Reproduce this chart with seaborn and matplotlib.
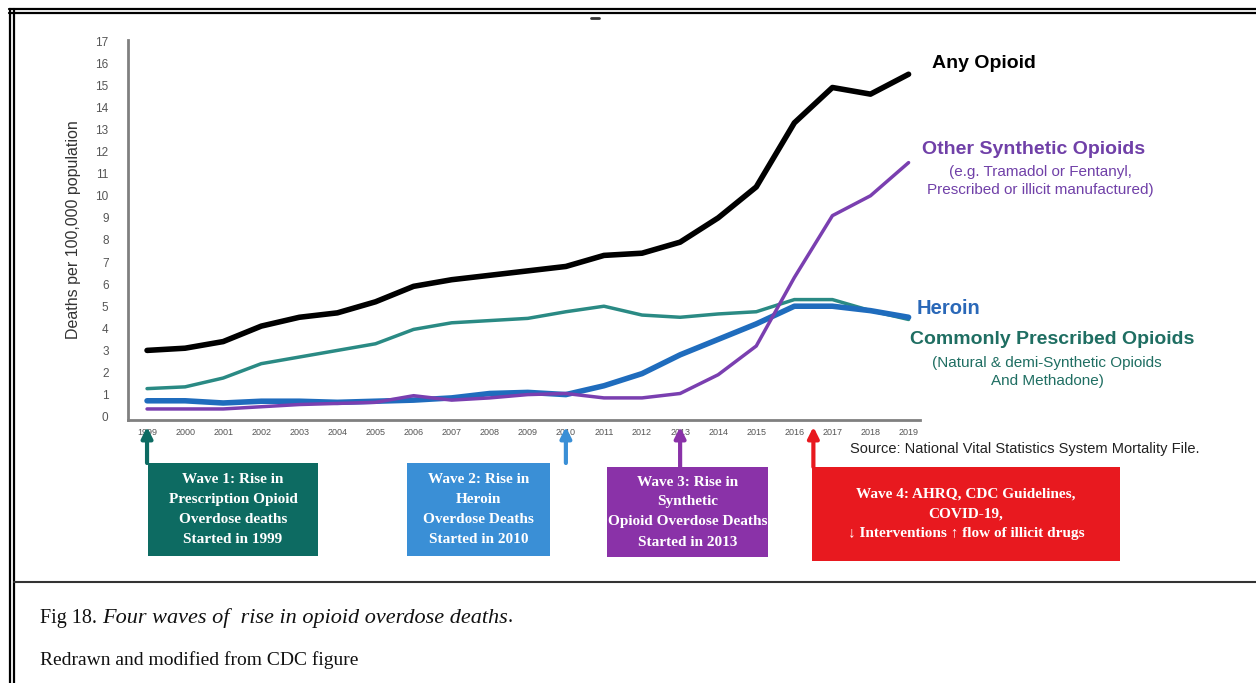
import numpy as np
import pandas as pd
import matplotlib
matplotlib.use("Agg")
import matplotlib.pyplot as plt
from matplotlib.patches import Rectangle
from matplotlib.lines import Line2D
import seaborn as sns

# --- datos (muertes por 100.000 habitantes) ---
years = list(range(1999, 2020))
any_opioid = [3.0, 3.1, 3.4, 4.1, 4.5, 4.7, 5.2, 5.9, 6.2, 6.4, 6.6,
              6.8, 7.3, 7.4, 7.9, 9.0, 10.4, 13.3, 14.9, 14.6, 15.5]
synthetic = [0.35, 0.35, 0.35, 0.45, 0.55, 0.6, 0.65, 0.95, 0.75, 0.85, 1.0,
             1.05, 0.85, 0.85, 1.05, 1.9, 3.2, 6.3, 9.1, 10.0, 11.5]
heroin = [0.72, 0.72, 0.62, 0.7, 0.7, 0.65, 0.7, 0.75, 0.85, 1.05, 1.1,
          1.0, 1.4, 1.95, 2.8, 3.5, 4.2, 5.0, 5.0, 4.8, 4.5]
prescribed = [1.27, 1.35, 1.75, 2.4, 2.7, 3.0, 3.3, 3.95, 4.25, 4.35, 4.45,
              4.75, 5.0, 4.6, 4.5, 4.65, 4.75, 5.3, 5.3, 4.8, 4.4]

y_ticks = list(range(0, 18))

wave_years = [1999, 2010, 2013, 2016.5]
wave_texts = [
    "Wave 1: Rise in\nPrescription Opioid\nOverdose deaths\nStarted in 1999",
    "Wave 2: Rise in\nHeroin\nOverdose Deaths\nStarted in 2010",
    "Wave 3: Rise in\nSynthetic\nOpioid Overdose Deaths\nStarted in 2013",
    "Wave 4: AHRQ, CDC Guidelines,\nCOVID-19,\n\u2193 Interventions \u2191 flow of illicit drugs",
]
wave_colors = ["#0d6b62", "#3a8fd6", "#8a32a8", "#e8191f"]
# cajas en pixeles (x0, y0, x1, y1)
wave_boxes = [(148, 463, 318, 556), (407, 463, 550, 556),
              (607, 467, 768, 557), (812, 467, 1120, 561)]

W, H = 1256, 683


def fx(x):
    return x / W


def fy(y):
    return 1 - y / H


sns.set_theme(style="white")
plt.rcParams['font.family'] = ['Liberation Sans', 'DejaVu Sans']

fig = plt.figure(figsize=(W / 100, H / 100), dpi=100)
ax = fig.add_axes([fx(128), fy(420), fx(920) - fx(128), fy(40) - fy(420)])

df = pd.DataFrame({
    'year': years * 4,
    'value': any_opioid + synthetic + heroin + prescribed,
    'serie': (['any'] * len(years) + ['synthetic'] * len(years)
              + ['heroin'] * len(years) + ['prescribed'] * len(years)),
})

estilos = {
    'prescribed': ('#2a8a84', 2.5),
    'heroin': ('#1f6cbd', 4.0),
    'synthetic': ('#7a3fb0', 2.5),
    'any': ('#000000', 4.0),
}
for serie, (color, lw) in estilos.items():
    sns.lineplot(data=df[df['serie'] == serie], x='year', y='value',
                 color=color, linewidth=lw, ax=ax)

ax.set_xlim(1998.5, 2019.3)
ax.set_ylim(-0.15, 17.05)
ax.set_xticks(years)
ax.set_xticklabels([str(y) for y in years], fontsize=6.5, color='#555555')
ax.set_yticks(y_ticks)
ax.set_yticklabels([str(t) for t in y_ticks], fontsize=8.5, color='#555555')
ax.tick_params(axis='y', length=0, pad=14)
ax.tick_params(axis='x', length=0, pad=6)
ax.set_xlabel('')
ax.set_ylabel('Deaths per 100,000 population', fontsize=11.5, color='#333333',
              labelpad=10)
for s in ['top', 'right']:
    ax.spines[s].set_visible(False)
for s in ['left', 'bottom']:
    ax.spines[s].set_color('#808080')
    ax.spines[s].set_linewidth(2)

# etiquetas de series
fig.text(fx(984), fy(63), 'Any Opioid', ha='center', va='center',
         fontsize=14, fontweight='bold', color='black')
fig.text(fx(1034), fy(150), 'Other Synthetic Opioids', ha='center', va='center',
         fontsize=14, fontweight='bold', color='#7040a8')
fig.text(fx(1040), fy(181), '(e.g. Tramadol or Fentanyl,\nPrescribed or illicit manufactured)',
         ha='center', va='center', fontsize=11, color='#7040a8', linespacing=1.45)
fig.text(fx(949), fy(308), 'Heroin', ha='center', va='center',
         fontsize=14.5, fontweight='bold', color='#2a68b8')
fig.text(fx(1052), fy(340), 'Commonly Prescribed Opioids', ha='center', va='center',
         fontsize=14, fontweight='bold', color='#1f6e62')
fig.text(fx(1047), fy(372), '(Natural & demi-Synthetic Opioids\nAnd Methadone)',
         ha='center', va='center', fontsize=11, color='#1f6e62', linespacing=1.45)

fig.text(fx(850), fy(449), 'Source: National Vital Statistics System Mortality File.',
         ha='left', va='center', fontsize=10.5, color='#222222')

# cajas de las olas y flechas
for yr, txt, col, (x0, y0, x1, y1) in zip(wave_years, wave_texts, wave_colors, wave_boxes):
    fig.add_artist(Rectangle((fx(x0), fy(y1)), fx(x1) - fx(x0), fy(y0) - fy(y1),
                             transform=fig.transFigure, facecolor=col,
                             edgecolor='none'))
    fig.text(fx((x0 + x1) / 2), fy((y0 + y1) / 2), txt, ha='center', va='center',
             color='white', fontsize=11, fontweight='bold',
             family=['Liberation Serif', 'DejaVu Serif'], linespacing=1.7)
    ax.annotate('', xy=(yr, -0.018), xytext=(yr, -(y0 - 420) / 380),
                xycoords=('data', 'axes fraction'),
                textcoords=('data', 'axes fraction'),
                arrowprops=dict(arrowstyle='-|>', color=col, lw=3,
                                mutation_scale=16, shrinkA=0, shrinkB=0))

# marco de la pagina
for yy in [9, 13]:
    fig.add_artist(Line2D([fx(9), 1], [fy(yy), fy(yy)], color='black', lw=1.6,
                          transform=fig.transFigure))
for xx in [10, 14]:
    fig.add_artist(Line2D([fx(xx), fx(xx)], [fy(9), 0], color='black', lw=1.6,
                          transform=fig.transFigure))
fig.add_artist(Line2D([fx(14), 1], [fy(582), fy(582)], color='#333333', lw=1.5,
                      transform=fig.transFigure))
fig.add_artist(Line2D([fx(591), fx(599)], [fy(18), fy(18)], color='#333333', lw=2,
                      transform=fig.transFigure))

# pie de figura
serif = ['Liberation Serif', 'DejaVu Serif']
t = fig.text(fx(40), fy(618), 'Fig 18. ', ha='left', va='center', fontsize=14.5,
             family=serif, color='#111111')
fig.canvas.draw()
bb = t.get_window_extent()
t2 = fig.text(bb.x1 / W, fy(618), 'Four waves of  rise in opioid overdose deaths',
              ha='left', va='center', fontsize=16, family=serif,
              style='italic', color='#111111')
fig.canvas.draw()
bb2 = t2.get_window_extent()
fig.text(bb2.x1 / W, fy(618), '.', ha='left', va='center', fontsize=14.5,
         family=serif, color='#111111')
fig.text(fx(40), fy(660), 'Redrawn and modified from CDC figure', ha='left',
         va='center', fontsize=14, family=serif, color='#111111')

fig.savefig('out.png', dpi=100)
